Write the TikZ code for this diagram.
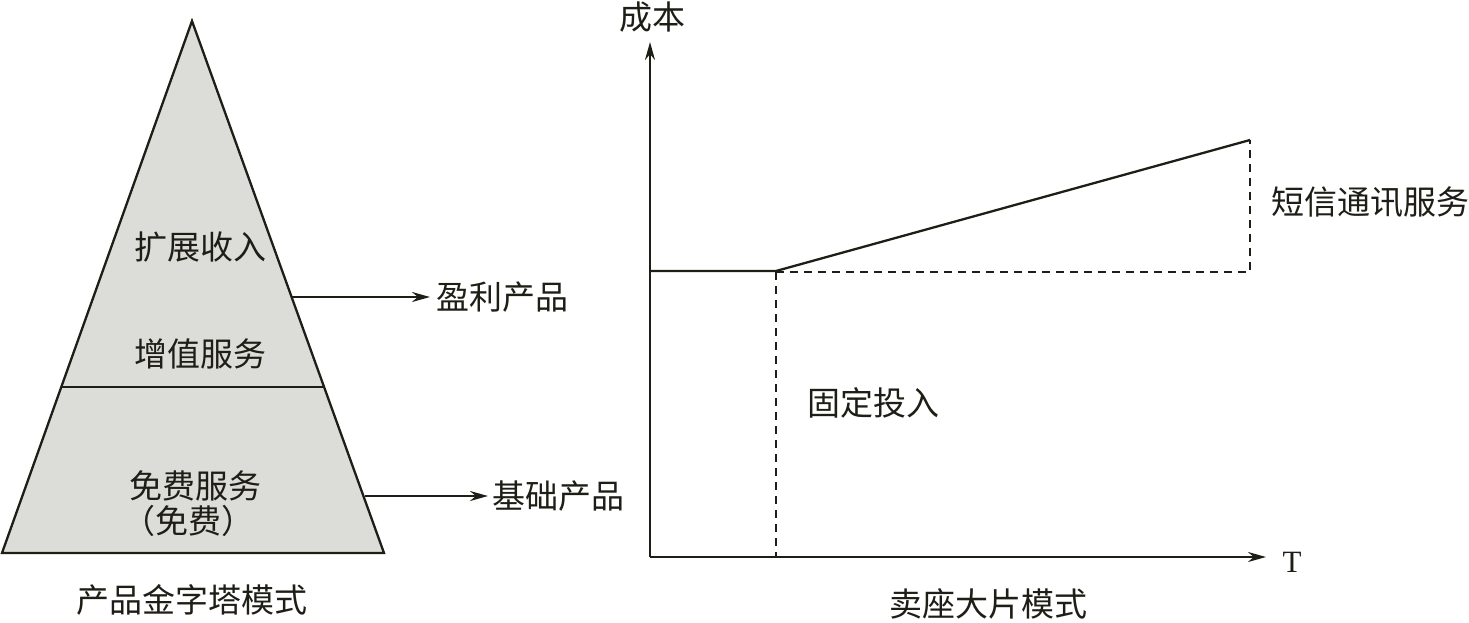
\documentclass[tikz,border=0pt]{standalone}
\usepackage{fontspec}
\setmainfont{Liberation Serif}
\newfontfamily\cjk{Noto Sans CJK SC}
\usetikzlibrary{arrows.meta}
\definecolor{ink}{RGB}{30,30,22}
\definecolor{pyrfill}{RGB}{220,220,217}
\tikzset{
  line/.style={draw=ink, line width=2.3pt},
  dline/.style={draw=ink, line width=2.2pt, dash pattern=on 8pt off 6pt},
  arr/.style={line, -{Stealth[length=18pt,width=10pt]}},
  lab/.style={font=\cjk\fontsize{33}{36}\selectfont, text=ink, inner sep=0pt},
}
\begin{document}
\begin{tikzpicture}[x=1pt,y=-1pt]
\useasboundingbox (0,0) rectangle (1469,622);
% pyramid
\coordinate (apex) at (192,21);
\coordinate (bl) at (2,553);
\coordinate (br) at (384,553);
\coordinate (dl) at (61,387);
\coordinate (dr) at (324,387);
\fill[pyrfill] (apex) -- (br) -- (bl) -- cycle;
\draw[line, line join=miter] (apex) -- (br) -- (bl) -- cycle;
\draw[line] (dl) -- (dr);
\node[lab] (t1) at (200,247) {扩展收入};
\node[lab] (t2) at (200,354) {增值服务};
\node[lab] (t3) at (195,486) {免费服务};
\node[lab] (t4) at (188,521) {（免费）};
\node[lab] (cap1) at (192,600) {产品金字塔模式};
\coordinate (a1s) at (291,297);
\coordinate (a2s) at (365,496);
\node[lab, anchor=west] (p1) at (436,297) {盈利产品};
\node[lab, anchor=west] (p2) at (492,496) {基础产品};
\coordinate (a1e) at (430,297);
\coordinate (a2e) at (488,496);
\draw[arr] (a1s) -- (a1e);
\draw[arr] (a2s) -- (a2e);
% chart
\coordinate (o) at (650,557);
\coordinate (ytop) at (650,42);
\coordinate (xend) at (1266,557);
\node[lab] (ylab) at (652,17) {成本};
\node[font=\fontsize{31}{34}\selectfont, text=ink, inner sep=0pt] (xlab) at (1292,562) {T};
\draw[arr] (o) -- (ytop);
\draw[arr] (o) -- (xend);
\coordinate (f0) at (650,271);
\coordinate (f1) at (776,271);
\coordinate (k) at (1250,140);
\coordinate (f1b) at (776,557);
\coordinate (kb) at (1250,272);
\coordinate (f1c) at (776,272);
\draw[line] (f0) -- (f1) -- (k);
\draw[dline] (f1c) -- (f1b);
\draw[dline] (f1c) -- (kb) -- (k);
\node[lab] (sms) at (1370,202) {短信通讯服务};
\node[lab] (fix) at (873,403) {固定投入};
\node[lab] (cap2) at (988,604) {卖座大片模式};
\end{tikzpicture}
\end{document}
